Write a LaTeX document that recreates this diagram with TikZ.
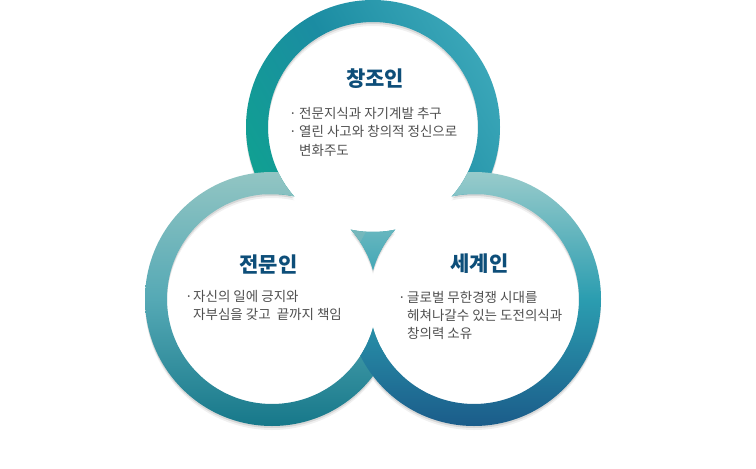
\documentclass[tikz,border=0pt]{standalone}
\usepackage{fontspec}
\usetikzlibrary{calc}
\newfontfamily\krfont{Noto Sans CJK KR}

\definecolor{titrebleu}{HTML}{0D4E79}
\definecolor{gristexte}{HTML}{4F4F4F}
\definecolor{haut_g}{HTML}{10A092}
\definecolor{haut_m}{HTML}{1B8CA2}
\definecolor{haut_d}{HTML}{3AA6B8}
\definecolor{gauche_h}{HTML}{92C5C3}
\definecolor{gauche_m}{HTML}{55A9B5}
\definecolor{gauche_b}{HTML}{17788A}
\definecolor{droite_h}{HTML}{98CBCB}
\definecolor{droite_m}{HTML}{2B9DB0}
\definecolor{droite_b}{HTML}{1B5C8A}

\tikzset{
  titre/.style={font=\krfont\bfseries\fontsize{21}{24}\selectfont,text=titrebleu,anchor=base,inner sep=0pt},
  ligne/.style={font=\krfont\fontsize{13.5}{16}\selectfont,text=gristexte,anchor=base west,inner sep=0pt},
  puce/.style={ligne},
}

\begin{document}
\begin{tikzpicture}[x=1pt,y=-1pt]

\path[fill=white,use as bounding box] (0,0) rectangle (756,469) ;

\coordinate (c_haut) at (373,127) ;
\coordinate (c_gauche) at (272,299) ;
\coordinate (c_droite) at (474,299) ;

% ombres des anneaux

\foreach \d/\o in {2/0.10,4/0.06} {
\begin{scope}[even odd rule]
\foreach \c in {c_haut,c_gauche,c_droite}
  \clip (-20,-20) rectangle (776,489) ($(\c)+(0,\d)$) circle (105) ;
\fill[black,opacity=\o,nonzero rule] ($(c_haut)+(0,\d)$) circle (127) ($(c_gauche)+(0,\d)$) circle (127) ($(c_droite)+(0,\d)$) circle (127) ;
\end{scope}
}

% anneaux

\begin{scope}[even odd rule]
\clip (-20,-20) rectangle (776,489) (c_haut) circle (105) ;
\clip (-20,-20) rectangle (776,489) (c_gauche) circle (105) ;
\clip (-20,-20) rectangle (776,489) (c_droite) circle (105) ;
\shade[left color=haut_g,right color=haut_d,middle color=haut_m,shading angle=120] (c_haut) circle (127) ;
\shade[top color=gauche_h,bottom color=gauche_b,middle color=gauche_m] (c_gauche) circle (127) ;
\shade[top color=droite_h,bottom color=droite_b,middle color=droite_m] (c_droite) circle (127) ;
\end{scope}

% textes du haut

\node[titre] (titre_haut) at (375,86) {창조인} ;
\node[puce] (puce_haut_1) at (289,118) {·} ;
\node[ligne] (ligne_haut_1) at (299,118) {전문지식과 자기계발 추구} ;
\node[puce] (puce_haut_2) at (289,136.5) {·} ;
\node[ligne] (ligne_haut_2) at (299,136.5) {열린 사고와 창의적 정신으로} ;
\node[ligne] (ligne_haut_3) at (299,155) {변화주도} ;

% textes de gauche

\node[titre] (titre_gauche) at (268.5,272) {전문인} ;
\node[puce] (puce_gauche_1) at (185,301) {·} ;
\node[ligne] (ligne_gauche_1) at (193,301) {자신의 일에 긍지와} ;
\node[ligne] (ligne_gauche_2) at (193,319.5) {자부심을 갖고~~끝까지 책임} ;

% textes de droite

\node[titre] (titre_droite) at (479.5,271) {세계인} ;
\node[puce] (puce_droite_1) at (398,302) {·} ;
\node[ligne] (ligne_droite_1) at (407,302) {글로벌 무한경쟁 시대를} ;
\node[ligne] (ligne_droite_2) at (407,320) {헤쳐나갈수 있는 도전의식과} ;
\node[ligne] (ligne_droite_3) at (407,338) {창의력 소유} ;

\end{tikzpicture}
\end{document}
